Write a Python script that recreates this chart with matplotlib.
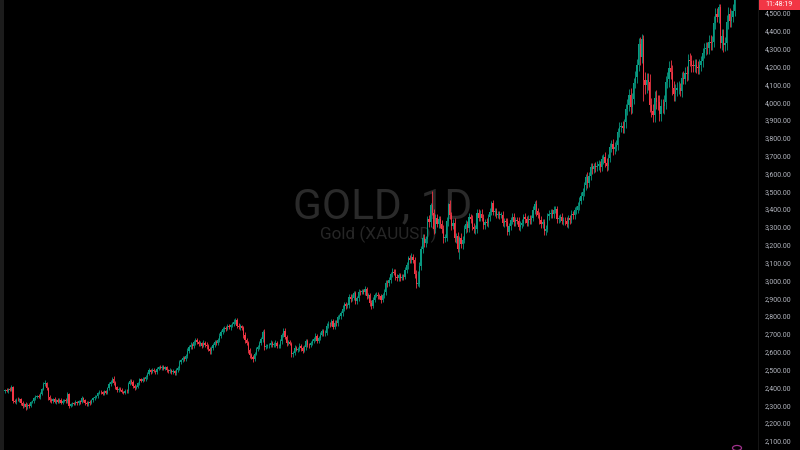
import matplotlib.pyplot as plt
from matplotlib.patches import Rectangle, Circle

# XAUUSD daily candles, oldest first.
# open of a day = previous close, wicks are given as distances above/below the body
first_open = 2380
closes = [
    2385, 2378, 2392, 2388, 2402, 2325, 2318, 2332, 2328, 2335, 2312, 2298, 2305, 2290, 2302, 2296, 2318, 2322, 2340, 2348,
    2352, 2345, 2365, 2392, 2418, 2425, 2395, 2345, 2330, 2322, 2335, 2318, 2328, 2320, 2332, 2315, 2325, 2330, 2322, 2362,
    2298, 2305, 2312, 2308, 2318, 2310, 2322, 2316, 2340, 2328, 2312, 2305, 2318, 2312, 2330, 2338, 2345, 2352, 2368, 2375,
    2372, 2365, 2378, 2370, 2395, 2420, 2432, 2450, 2425, 2402, 2385, 2392, 2388, 2375, 2370, 2382, 2378, 2420, 2438, 2432,
    2410, 2398, 2405, 2425, 2445, 2438, 2450, 2445, 2458, 2478, 2495, 2488, 2500, 2492, 2485, 2505, 2512, 2508, 2515, 2506,
    2512, 2498, 2490, 2495, 2485, 2492, 2480, 2495, 2510, 2540, 2552, 2565, 2558, 2575, 2605, 2625, 2638, 2630, 2652, 2665,
    2655, 2642, 2648, 2635, 2650, 2640, 2632, 2615, 2602, 2620, 2640, 2652, 2648, 2665, 2690, 2712, 2725, 2735, 2730, 2742,
    2738, 2748, 2755, 2768, 2778, 2745, 2738, 2742, 2735, 2695, 2665, 2650, 2610, 2580, 2570, 2562, 2590, 2615, 2625, 2648,
    2670, 2712, 2625, 2633, 2636, 2638, 2650, 2639, 2643, 2650, 2632, 2633, 2660, 2694, 2718, 2681, 2648, 2652, 2646, 2586,
    2594, 2622, 2612, 2617, 2634, 2621, 2606, 2624, 2658, 2640, 2636, 2648, 2661, 2670, 2689, 2662, 2677, 2696, 2714, 2703,
    2708, 2745, 2755, 2754, 2770, 2740, 2763, 2759, 2794, 2798, 2815, 2842, 2866, 2856, 2861, 2908, 2898, 2904, 2928, 2882,
    2899, 2935, 2934, 2939, 2936, 2952, 2915, 2916, 2876, 2858, 2893, 2918, 2920, 2911, 2910, 2889, 2916, 2934, 2988, 2984,
    3001, 3035, 3048, 3044, 3022, 3011, 3028, 3015, 3020, 3019, 3057, 3085, 3124, 3113, 3134, 3114, 3037, 2982, 2982, 3082,
    3175, 3237, 3210, 3230, 3343, 3327, 3425, 3380, 3288, 3349, 3319, 3343, 3316, 3288, 3240, 3240, 3333, 3431, 3365, 3306,
    3325, 3236, 3248, 3178, 3240, 3203, 3229, 3289, 3314, 3294, 3357, 3342, 3300, 3288, 3289, 3381, 3353, 3375, 3352, 3310,
    3326, 3322, 3355, 3386, 3432, 3385, 3388, 3369, 3370, 3368, 3368, 3323, 3332, 3328, 3274, 3303, 3338, 3357, 3326, 3337,
    3336, 3301, 3313, 3324, 3355, 3343, 3324, 3347, 3339, 3350, 3397, 3431, 3387, 3368, 3337, 3314, 3326, 3275, 3289, 3363,
    3373, 3381, 3370, 3396, 3398, 3342, 3348, 3356, 3335, 3336, 3332, 3315, 3348, 3338, 3371, 3365, 3393, 3397, 3416, 3448,
    3476, 3495, 3533, 3578, 3545, 3586, 3636, 3627, 3641, 3634, 3643, 3652, 3638, 3679, 3690, 3660, 3643, 3685, 3746, 3764,
    3736, 3749, 3760, 3833, 3858, 3866, 3857, 3886, 3961, 3985, 4041, 3975, 4017, 4110, 4142, 4209, 4326, 4251, 4356, 4125,
    4095, 4126, 4112, 3982, 3952, 3930, 4025, 4002, 4000, 3932, 3980, 3977, 4000, 4115, 4128, 4194, 4171, 4080, 4045, 4066,
    4078, 4078, 4065, 4137, 4131, 4164, 4156, 4239, 4230, 4206, 4200, 4208, 4198, 4189, 4208, 4229, 4278, 4300, 4305, 4302,
    4339, 4330, 4339, 4444, 4492, 4480, 4532, 4330, 4372, 4320, 4330, 4450, 4495, 4455, 4478, 4510, 4600,
]
wick_up = [
    8, 12, 6, 10, 9, 5, 10, 7, 12, 6, 8, 10, 6, 12, 8, 9, 6, 10, 7, 8,
    6, 10, 8, 7, 12, 15, 8, 6, 10, 8, 7, 9, 6, 10, 8, 7, 9, 6, 8, 10,
    8, 7, 9, 6, 10, 8, 7, 9, 12, 6, 8, 10, 7, 9, 6, 8, 10, 7, 8, 9,
    10, 8, 9, 7, 8, 10, 9, 8, 12, 9, 7, 10, 8, 9, 7, 8, 10, 9, 8, 12,
    8, 10, 9, 8, 10, 9, 7, 8, 10, 9, 12, 8, 10, 9, 8, 10, 9, 12, 8, 10,
    9, 10, 8, 12, 9, 10, 8, 12, 10, 14, 10, 12, 9, 12, 15, 12, 14, 10, 12, 15,
    12, 10, 12, 9, 14, 10, 12, 10, 14, 12, 10, 14, 12, 10, 15, 12, 14, 12, 10, 14,
    12, 10, 12, 14, 12, 10, 14, 12, 10, 12, 14, 15, 12, 10, 12, 14, 10, 12, 15, 14,
    14, 12, 15, 12, 10, 12, 14, 10, 12, 14, 10, 12, 14, 12, 15, 18, 12, 14, 12, 10,
    12, 14, 10, 12, 14, 12, 10, 15, 14, 12, 10, 14, 12, 15, 14, 12, 10, 14, 12, 15,
    12, 14, 15, 12, 14, 12, 15, 14, 12, 15, 14, 18, 15, 14, 12, 15, 14, 18, 15, 12,
    15, 18, 14, 15, 12, 18, 14, 15, 12, 14, 15, 12, 18, 14, 15, 12, 14, 18, 15, 14,
    18, 15, 20, 14, 18, 15, 14, 16, 18, 15, 20, 18, 14, 16, 18, 15, 20, 24, 70, 20,
    20, 25, 22, 20, 18, 25, 8, 75, 20, 25, 22, 18, 20, 22, 25, 20, 22, 6, 22, 20,
    22, 25, 20, 22, 12, 25, 20, 22, 25, 20, 22, 18, 25, 20, 22, 18, 22, 20, 25, 22,
    20, 22, 18, 20, 15, 22, 20, 18, 22, 20, 18, 22, 20, 18, 22, 20, 18, 20, 22, 18,
    18, 22, 20, 18, 20, 22, 18, 20, 22, 18, 20, 12, 22, 20, 18, 22, 20, 18, 20, 15,
    20, 18, 22, 20, 18, 22, 20, 18, 22, 20, 18, 22, 20, 18, 22, 20, 18, 20, 22, 18,
    22, 25, 20, 18, 28, 20, 22, 25, 20, 22, 25, 22, 20, 25, 20, 28, 25, 22, 25, 22,
    28, 25, 30, 22, 28, 25, 30, 22, 28, 30, 35, 40, 35, 28, 30, 32, 35, 40, 25, 19,
    45, 40, 35, 45, 40, 38, 35, 42, 40, 38, 35, 40, 38, 30, 40, 35, 42, 38, 40, 35,
    35, 38, 32, 30, 35, 32, 38, 30, 35, 32, 30, 35, 32, 30, 35, 32, 28, 30, 35, 32,
    35, 38, 32, 40, 35, 38, 18, 20, 38, 40, 35, 38, 40, 35, 38, 40, 10,
]
wick_dn = [
    10, 6, 9, 7, 8, 12, 8, 10, 6, 9, 10, 12, 8, 14, 9, 10, 7, 6, 9, 8,
    8, 6, 10, 7, 9, 8, 10, 14, 9, 8, 10, 6, 9, 7, 8, 10, 6, 9, 8, 12,
    12, 10, 8, 9, 7, 10, 8, 9, 6, 10, 12, 9, 8, 10, 7, 9, 8, 6, 10, 7,
    9, 10, 8, 9, 7, 8, 10, 9, 10, 12, 9, 8, 10, 9, 8, 7, 10, 8, 9, 10,
    12, 10, 9, 8, 10, 9, 8, 10, 7, 9, 8, 10, 9, 8, 10, 9, 8, 7, 10, 9,
    10, 12, 9, 10, 12, 9, 10, 8, 10, 12, 10, 9, 12, 10, 12, 10, 9, 12, 10, 12,
    14, 12, 10, 12, 10, 12, 14, 12, 15, 12, 10, 12, 10, 12, 10, 12, 10, 14, 12, 10,
    12, 14, 10, 12, 14, 12, 10, 14, 12, 15, 14, 12, 15, 14, 12, 22, 12, 10, 12, 10,
    12, 14, 15, 10, 12, 14, 12, 10, 12, 14, 12, 10, 12, 14, 10, 12, 14, 12, 10, 15,
    14, 12, 10, 12, 10, 14, 12, 10, 15, 12, 14, 10, 12, 14, 12, 15, 14, 12, 10, 12,
    14, 12, 10, 14, 12, 15, 12, 14, 12, 10, 14, 12, 15, 14, 12, 15, 18, 12, 14, 15,
    15, 14, 18, 12, 14, 15, 18, 14, 20, 18, 15, 14, 12, 15, 14, 18, 12, 15, 14, 18,
    15, 18, 14, 16, 18, 15, 14, 18, 15, 14, 12, 15, 18, 14, 16, 15, 22, 26, 14, 20,
    22, 20, 25, 22, 20, 25, 25, 14, 28, 22, 20, 25, 22, 20, 28, 22, 20, 25, 22, 25,
    20, 22, 25, 20, 58, 22, 25, 20, 22, 25, 20, 22, 18, 20, 25, 22, 20, 22, 18, 20,
    22, 18, 20, 22, 20, 18, 22, 20, 18, 22, 20, 18, 22, 20, 20, 18, 22, 20, 18, 22,
    20, 18, 22, 20, 18, 22, 20, 18, 22, 20, 18, 22, 25, 20, 22, 18, 20, 22, 20, 18,
    22, 20, 18, 22, 20, 18, 22, 20, 18, 22, 20, 18, 22, 20, 18, 22, 20, 18, 20, 22,
    20, 25, 22, 28, 25, 22, 25, 28, 22, 25, 22, 25, 28, 22, 25, 22, 28, 25, 22, 25,
    30, 28, 25, 30, 28, 25, 30, 28, 30, 35, 32, 40, 35, 30, 28, 32, 35, 40, 30, 121,
    50, 42, 45, 40, 38, 44, 40, 38, 42, 35, 40, 38, 42, 40, 38, 45, 40, 42, 38, 40,
    32, 35, 30, 35, 32, 30, 35, 32, 30, 35, 32, 30, 35, 32, 30, 35, 32, 30, 35, 32,
    32, 35, 38, 30, 35, 32, 35, 28, 35, 38, 32, 35, 38, 32, 35, 30, 25,
]
assert len(closes) == len(wick_up) == len(wick_dn)

price_ticks = list(range(2100, 4600, 100))
symbol_text = "GOLD, 1D"
name_text = "Gold (XAUUSD)"
last_price = "4,601.62"
countdown = "11:48:19"

up_col = "#089981"
dn_col = "#f23645"

opens = [first_open] + closes[:-1]
idx = list(range(len(closes)))
colors = [up_col if c >= o else dn_col for o, c in zip(opens, closes)]
bottoms = [min(o, c) for o, c in zip(opens, closes)]
heights = [max(abs(c - o), 3) for o, c in zip(opens, closes)]
highs = [max(o, c) + w for o, c, w in zip(opens, closes, wick_up)]
lows = [min(o, c) - w for o, c, w in zip(opens, closes, wick_dn)]

W, H = 800, 450
plot_w = 758  # chart pane width in px, price scale to the right

fig = plt.figure(figsize=(8, 4.5), dpi=100, facecolor="black")
ax = fig.add_axes([0, 0, plot_w / W, 1], facecolor="black")

# watermark, behind the candles
ax.text(382.5 / plot_w, 1 - 218 / H, symbol_text, transform=ax.transAxes,
        ha="center", va="baseline", fontsize=30.5, family="Roboto",
        color="#2a2a2a", zorder=0)
ax.text(378 / plot_w, 1 - 239 / H, name_text, transform=ax.transAxes,
        ha="center", va="baseline", fontsize=12.3, family="Roboto",
        color="#262626", zorder=0)

ax.vlines(idx, lows, highs, colors=colors, linewidth=0.6, zorder=2)
ax.bar(idx, heights, bottom=bottoms, width=0.72, color=colors, linewidth=0, zorder=3)

# candle i sits at x = 5 + 1.6*i px; 100 price units = 17.83 px, 4,500 at y = 13 px
px_per_bar = 1.6
xmin = -5 / px_per_bar
ax.set_xlim(xmin, xmin + plot_w / px_per_bar)
px_per_unit = 17.83 / 100
ax.set_ylim(4500 - (H - 13) / px_per_unit, 4500 + 13 / px_per_unit)

ax.set_xticks([])
ax.yaxis.tick_right()
ax.set_yticks(price_ticks)
ax.set_yticklabels([f"{p:,.2f}" for p in price_ticks])
ax.tick_params(axis="y", length=0, pad=5, labelsize=5, labelcolor="#b2b5be")
for lbl in ax.get_yticklabels():
    lbl.set_family("Roboto")
for s in ["top", "left", "bottom"]:
    ax.spines[s].set_visible(False)
ax.spines["right"].set_color("#161616")
ax.spines["right"].set_linewidth(0.7)

# thin toolbar edge on the left
fig.add_artist(Rectangle((0, 0), 4 / W, 1, transform=fig.transFigure,
                         facecolor="#1c1c1c", edgecolor="none"))

# last price tag, pinned to the top of the price scale (price line runs off the top)
fig.add_artist(Rectangle((759 / W, 1 - 9.5 / H), 41 / W, 9.5 / H,
                         transform=fig.transFigure, facecolor=dn_col, edgecolor="none"))
fig.text(779 / W, 1 + 3.5 / H, last_price, ha="center", va="center",
         fontsize=5, family="Roboto", color="white")
fig.text(779 / W, 1 - 5 / H, countdown, ha="center", va="center",
         fontsize=5, family="Roboto", color="white")

# event marker at the bottom of the pane
fig.add_artist(Circle((737 / W, 1 - 448 / H), 4.5 / W, transform=fig.transFigure,
                      facecolor="none", edgecolor="#a0328c", linewidth=0.9))

plt.savefig("out.png", dpi=100, facecolor="black")
